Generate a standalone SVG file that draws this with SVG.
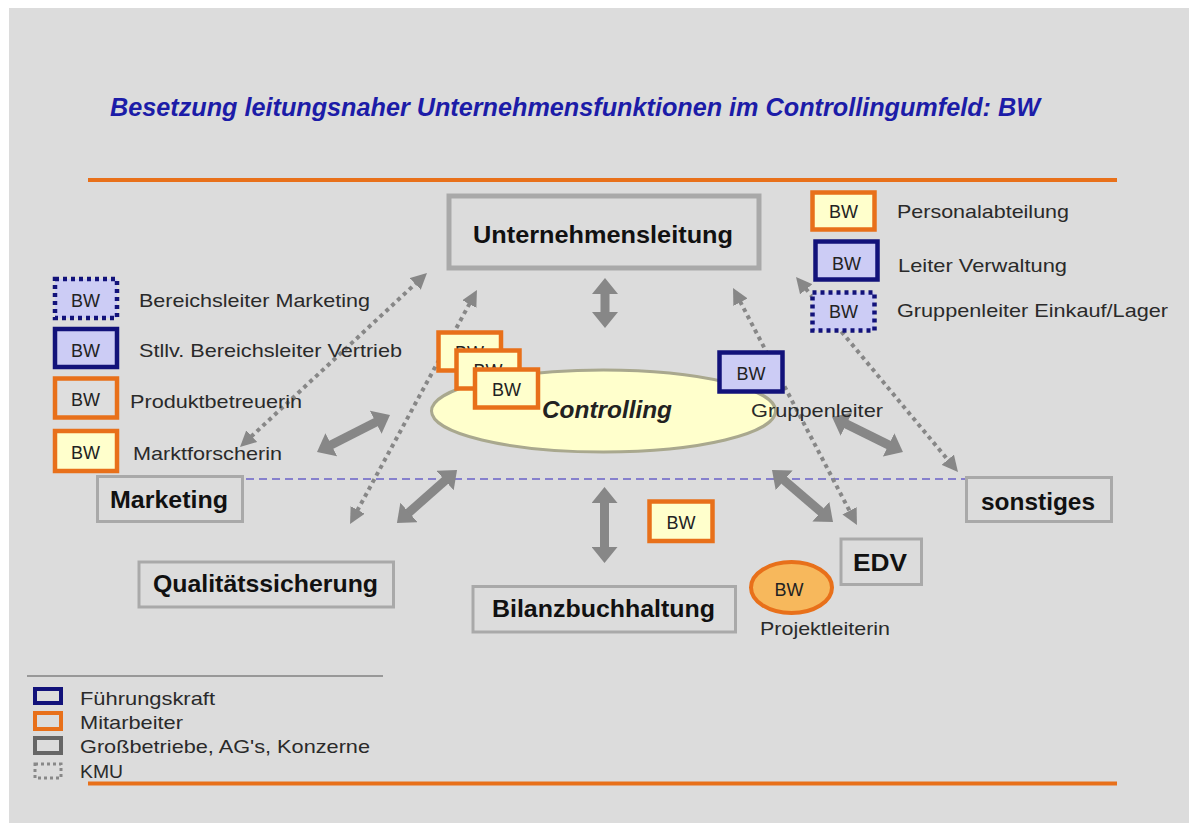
<svg xmlns="http://www.w3.org/2000/svg" width="1189" height="823" viewBox="0 0 1189 823">
<style>
  text { font-family: "Liberation Sans", Arial, sans-serif; fill: #222; }
  .title { font-size: 25px; font-style: italic; font-weight: bold; fill: #1c1ca8; }
  .node { fill: #dcdcdc; stroke: #a9a9a9; stroke-width: 3; }
  .nlabel { font-size: 24px; font-weight: bold; fill: #111; }
  .lbl { font-size: 19px; fill: #2a2a2a; }
  .bw { font-size: 18px; fill: #222; text-anchor: middle; }
  .mit { fill: #ffffcc; stroke: #e8701a; stroke-width: 4.5; }
  .mitg { fill: #dedede; stroke: #e8701a; stroke-width: 4.5; }
  .fk { fill: #ccccf5; stroke: #12127a; stroke-width: 4.5; }
  .kmu { fill: #ccccf5; stroke: #12127a; stroke-width: 4.5; stroke-dasharray: 4 4; }
  .thick { stroke: #878787; stroke-width: 9; fill: none; marker-start: url(#ah); marker-end: url(#ah); }
  .dot { stroke: #878787; stroke-width: 4; stroke-dasharray: 4 4; fill: none; marker-start: url(#dh); marker-end: url(#dh); }
</style>
<defs>
  <marker id="ah" viewBox="0 0 16 26" refX="1" refY="13" markerWidth="16" markerHeight="26" markerUnits="userSpaceOnUse" orient="auto-start-reverse">
    <path d="M0,0 L16,13 L0,26 z" fill="#878787"/>
  </marker>
  <marker id="dh" viewBox="0 0 16 16" refX="1" refY="8" markerWidth="16" markerHeight="16" markerUnits="userSpaceOnUse" orient="auto-start-reverse">
    <path d="M0,0 L16,8 L0,16 z" fill="#878787"/>
  </marker>
</defs>

<rect x="0" y="0" width="1189" height="823" fill="#ffffff"/>
<rect x="9" y="8" width="1180" height="815" fill="#dcdcdc"/>

<text class="title" x="110" y="116" textLength="930" lengthAdjust="spacingAndGlyphs">Besetzung leitungsnaher Unternehmensfunktionen im Controllingumfeld: BW</text>

<line x1="88" y1="180" x2="1117" y2="180" stroke="#e8701a" stroke-width="4"/>
<line x1="88" y1="783.5" x2="1117" y2="783.5" stroke="#e8701a" stroke-width="4"/>
<line x1="246" y1="479" x2="965" y2="479" stroke="#6a62c8" stroke-width="1.5" stroke-dasharray="8 5"/>

<g id="controlling">
  <ellipse cx="603.5" cy="411" rx="172" ry="41" fill="#ffffcc" stroke="#a9a88e" stroke-width="3"/>
  <text x="542" y="418" font-size="24" font-weight="bold" font-style="italic" textLength="130" lengthAdjust="spacingAndGlyphs" fill="#111">Controlling</text>
</g>

<g id="connectors">
  <line class="thick" x1="330.4" y1="445.2" x2="376.6" y2="421.8"/>
  <line class="thick" x1="408.2" y1="513.1" x2="445.8" y2="479.9"/>
  <line class="thick" x1="605" y1="293" x2="605" y2="313"/>
  <line class="thick" x1="604.5" y1="502" x2="604.5" y2="548"/>
  <line class="thick" x1="845.5" y1="423.6" x2="889.5" y2="445.4"/>
  <line class="thick" x1="783.4" y1="479.7" x2="821.6" y2="512.3"/>
  <line class="dot" x1="251" y1="436.8" x2="416" y2="283.2"/>
  <line class="dot" x1="357.2" y1="510.8" x2="469.8" y2="303.2"/>
  <line class="dot" x1="740" y1="301.3" x2="850" y2="511.7"/>
  <line class="dot" x1="805.6" y1="288.5" x2="948.4" y2="460.5"/>
</g>

<g id="unternehmensleitung">
  <rect x="449" y="196" width="310" height="72" fill="#dcdcdc" stroke="#a9a9a9" stroke-width="5"/>
  <text class="nlabel" x="473" y="243" textLength="260" lengthAdjust="spacingAndGlyphs">Unternehmensleitung</text>
</g>
<g id="marketing">
  <rect class="node" x="97.5" y="476.5" width="145" height="45"/>
  <text class="nlabel" x="110" y="508" textLength="118" lengthAdjust="spacingAndGlyphs">Marketing</text>
</g>
<g id="qualitaetssicherung">
  <rect class="node" x="139" y="562" width="254.5" height="45"/>
  <text class="nlabel" x="153" y="592" textLength="225" lengthAdjust="spacingAndGlyphs">Qualitätssicherung</text>
</g>
<g id="bilanzbuchhaltung">
  <rect class="node" x="473" y="586.5" width="262.5" height="45.5"/>
  <text class="nlabel" x="492" y="617" textLength="223" lengthAdjust="spacingAndGlyphs">Bilanzbuchhaltung</text>
</g>
<g id="edv">
  <rect class="node" x="841" y="539" width="80.5" height="45.5"/>
  <text class="nlabel" x="853" y="571" textLength="54" lengthAdjust="spacingAndGlyphs">EDV</text>
</g>
<g id="sonstiges">
  <rect class="node" x="966.5" y="477.5" width="145" height="44"/>
  <text class="nlabel" x="981" y="510" textLength="114" lengthAdjust="spacingAndGlyphs">sonstiges</text>
</g>

<g id="bw-controlling-1">
  <rect class="mit" x="438.5" y="332.5" width="62.5" height="38"/>
  <text class="bw" x="469.5" y="359">BW</text>
</g>
<g id="bw-controlling-2">
  <rect class="mit" x="456.5" y="350.5" width="63" height="38"/>
  <text class="bw" x="488" y="377">BW</text>
</g>
<g id="bw-controlling-3">
  <rect class="mit" x="475" y="369.5" width="63" height="38"/>
  <text class="bw" x="506.5" y="396">BW</text>
</g>
<g id="bw-gruppenleiter">
  <rect class="fk" x="719.5" y="352.5" width="63" height="39"/>
  <text class="bw" x="751" y="380">BW</text>
  <text class="lbl" x="751" y="417" textLength="132" lengthAdjust="spacingAndGlyphs">Gruppenleiter</text>
</g>
<g id="bw-bilanz">
  <rect class="mit" x="649.5" y="501.5" width="63" height="39.5"/>
  <text class="bw" x="681" y="529">BW</text>
</g>
<g id="bw-projektleiterin">
  <ellipse cx="791.5" cy="587.5" rx="40.5" ry="25.5" fill="#f7b85c" stroke="#e8701a" stroke-width="4"/>
  <text class="bw" x="789" y="596">BW</text>
  <text class="lbl" x="760" y="635" font-size="18" textLength="130" lengthAdjust="spacingAndGlyphs">Projektleiterin</text>
</g>

<g id="legend-left">
  <g id="bw-bereichsleiter-marketing">
    <rect class="kmu" x="55" y="279" width="62" height="39"/>
    <text class="bw" x="85.5" y="307">BW</text>
    <text class="lbl" x="139" y="307" textLength="231" lengthAdjust="spacingAndGlyphs">Bereichsleiter Marketing</text>
  </g>
  <g id="bw-vertrieb">
    <rect class="fk" x="55" y="329" width="62" height="38"/>
    <text class="bw" x="85.5" y="357">BW</text>
    <text class="lbl" x="139" y="357" textLength="263" lengthAdjust="spacingAndGlyphs">Stllv. Bereichsleiter Vertrieb</text>
  </g>
  <g id="bw-produktbetreuerin">
    <rect class="mitg" x="55" y="378.5" width="62" height="39"/>
    <text class="bw" x="85.5" y="406">BW</text>
    <text class="lbl" x="130" y="408" textLength="172" lengthAdjust="spacingAndGlyphs">Produktbetreuerin</text>
  </g>
  <g id="bw-marktforscherin">
    <rect class="mit" x="55" y="431" width="62" height="40"/>
    <text class="bw" x="85.5" y="459">BW</text>
    <text class="lbl" x="133" y="460" textLength="149" lengthAdjust="spacingAndGlyphs">Marktforscherin</text>
  </g>
</g>

<g id="legend-right">
  <g id="bw-personal">
    <rect class="mit" x="812.5" y="192.5" width="62" height="37"/>
    <text class="bw" x="843.5" y="218">BW</text>
    <text class="lbl" x="897" y="218" textLength="172" lengthAdjust="spacingAndGlyphs">Personalabteilung</text>
  </g>
  <g id="bw-verwaltung">
    <rect class="fk" x="815.5" y="241.5" width="62" height="38"/>
    <text class="bw" x="846.5" y="270">BW</text>
    <text class="lbl" x="898" y="272" textLength="169" lengthAdjust="spacingAndGlyphs">Leiter Verwaltung</text>
  </g>
  <g id="bw-einkauf">
    <rect class="kmu" x="812.5" y="292.5" width="62" height="38"/>
    <text class="bw" x="843.5" y="318">BW</text>
    <text class="lbl" x="897" y="317" textLength="271" lengthAdjust="spacingAndGlyphs">Gruppenleiter Einkauf/Lager</text>
  </g>
</g>

<g id="legend">
  <line x1="27" y1="676" x2="383" y2="676" stroke="#555" stroke-width="1.2"/>
  <rect x="35" y="689" width="26" height="14" fill="none" stroke="#12127a" stroke-width="4"/>
  <text class="lbl" x="80" y="705" textLength="135" lengthAdjust="spacingAndGlyphs">Führungskraft</text>
  <rect x="35" y="713" width="26" height="16" fill="none" stroke="#e8701a" stroke-width="4"/>
  <text class="lbl" x="80" y="729" textLength="103" lengthAdjust="spacingAndGlyphs">Mitarbeiter</text>
  <rect x="35" y="738" width="26" height="15" fill="none" stroke="#666" stroke-width="4"/>
  <text class="lbl" x="80" y="753" textLength="290" lengthAdjust="spacingAndGlyphs">Großbetriebe, AG's, Konzerne</text>
  <rect x="35" y="764" width="26" height="14" fill="none" stroke="#888" stroke-width="3" stroke-dasharray="3 3"/>
  <text class="lbl" x="80" y="778" textLength="43" lengthAdjust="spacingAndGlyphs">KMU</text>
</g>
</svg>
